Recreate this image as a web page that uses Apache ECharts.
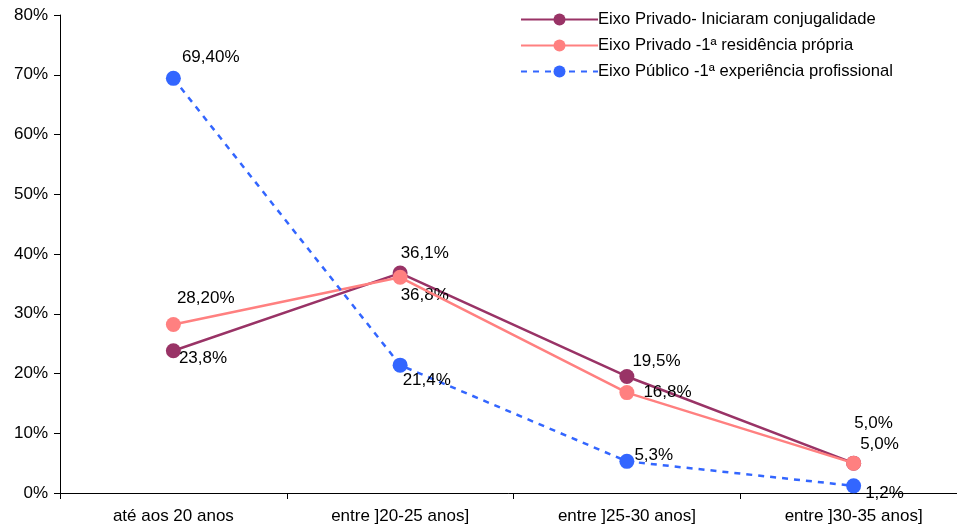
<!DOCTYPE html>
<html>
<head>
<meta charset="utf-8">
<script src="https://cdn.jsdelivr.net/npm/echarts@6/dist/echarts.min.js"></script>
<style>
  html, body { margin: 0; padding: 0; background: #fff; }
  #chart { width: 957px; height: 531px; }
</style>
</head>
<body>
<div id="chart"></div>
<script>
// Age brackets on the category axis
const categories = ['até aos 20 anos', 'entre ]20-25 anos]', 'entre ]25-30 anos]', 'entre ]30-35 anos]'];

// Percentages per series
const conjugalidade = [23.8, 36.8, 19.5, 5.0];
const residencia = [28.2, 36.1, 16.8, 5.0];
const experiencia = [69.4, 21.4, 5.3, 1.2];

// Decimal places shown in each series' value labels
const conjugalidadeDecimals = [1, 1, 1, 1];
const residenciaDecimals = [2, 1, 1, 1];
const experienciaDecimals = [2, 1, 1, 1];

// Y axis ticks
const yTicks = [0, 10, 20, 30, 40, 50, 60, 70, 80];

const seriesNames = [
  'Eixo Privado- Iniciaram conjugalidade',
  'Eixo Privado -1ª residência própria',
  'Eixo Público -1ª experiência profissional'
];

const FONT = '"Liberation Sans", Arial, sans-serif';

function fmt(v, d) {
  return v.toFixed(d).replace('.', ',') + '%';
}

// label offsets for each point, tuned to keep overlapping labels apart
function buildData(values, decimals, offsets) {
  return values.map((v, i) => ({
    value: v,
    label: {
      show: true,
      position: 'right',
      offset: offsets[i],
      formatter: fmt(v, decimals[i])
    }
  }));
}

const chart = echarts.init(document.getElementById('chart'), null, { renderer: 'canvas' });

const labelStyle = { color: '#000', fontFamily: FONT, fontSize: 17 };

chart.setOption({
  backgroundColor: '#fff',
  animation: false,
  // the plot runs slightly past the right edge of the canvas
  grid: { left: 60, top: 15, width: 907, bottom: 38, containLabel: false, outerBoundsMode: 'none' },
  legend: {
    orient: 'vertical',
    left: 515,
    top: 6,
    itemWidth: 77,
    itemHeight: 15,
    itemGap: 9,
    textStyle: { color: '#000', fontFamily: FONT, fontSize: 16.6, padding: [0, 0, 0, -5] },
    data: seriesNames
  },
  xAxis: {
    type: 'category',
    data: categories,
    boundaryGap: true,
    axisLine: { lineStyle: { color: '#000', width: 1 } },
    axisTick: { show: true, length: 6, lineStyle: { color: '#000' } },
    axisLabel: { color: '#000', fontFamily: FONT, fontSize: 17, margin: 15 }
  },
  yAxis: {
    type: 'value',
    min: yTicks[0],
    max: yTicks[yTicks.length - 1],
    interval: 10,
    splitLine: { show: false },
    axisLine: { show: true, lineStyle: { color: '#000', width: 1 } },
    axisTick: { show: true, length: 6, lineStyle: { color: '#000' } },
    axisLabel: { color: '#000', fontFamily: FONT, fontSize: 17, margin: 12, formatter: v => v + '%' }
  },
  series: [
    {
      name: seriesNames[0],
      type: 'line',
      data: buildData(conjugalidade, conjugalidadeDecimals, [[-7, 8], [-12, 22], [-7, -15], [-12, -40]]),
      symbol: 'circle',
      symbolSize: 15,
      color: '#993366',
      lineStyle: { width: 2.5, color: '#993366' },
      label: labelStyle,
      z: 2
    },
    {
      name: seriesNames[1],
      type: 'line',
      data: buildData(residencia, residenciaDecimals, [[-9, -26], [-12, -24], [4, 0], [-6, -19]]),
      symbol: 'circle',
      symbolSize: 15,
      color: '#FF8080',
      lineStyle: { width: 2.5, color: '#FF8080' },
      label: labelStyle,
      z: 3
    },
    {
      name: seriesNames[2],
      type: 'line',
      data: buildData(experiencia, experienciaDecimals, [[-4, -21], [-10, 15], [-5, -6], [-1, 7]]),
      symbol: 'circle',
      symbolSize: 15,
      color: '#3366FF',
      lineStyle: { width: 2.5, color: '#3366FF', type: [6, 6] },
      label: labelStyle,
      z: 4
    }
  ]
});
</script>
</body>
</html>
